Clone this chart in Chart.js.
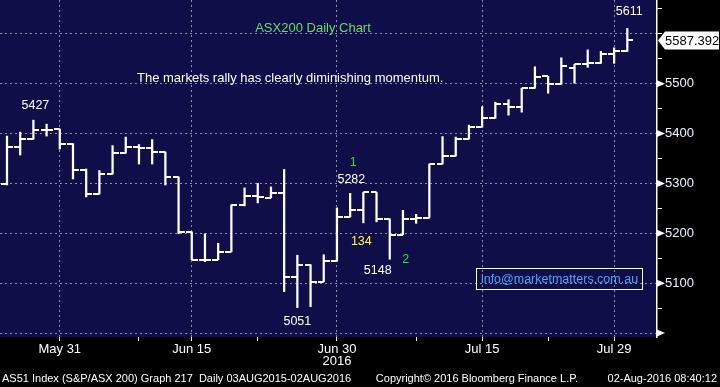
<!DOCTYPE html>
<html>
<head>
<meta charset="utf-8">
<script src="https://cdn.jsdelivr.net/npm/chart.js@4.4.1/dist/chart.umd.min.js"></script>
<style>
  html, body { margin: 0; padding: 0; background: #000; }
  #wrap { width: 720px; height: 387px; }
</style>
</head>
<body>
<div id="wrap"><canvas id="chart_ohlc"></canvas></div>
<script>
// ASX200 daily bars, 25 May - 1 Aug 2016
const dates = [
  'May 25', 'May 26', 'May 27', 'May 30', 'May 31',
  'Jun 1', 'Jun 2', 'Jun 3', 'Jun 6', 'Jun 7', 'Jun 8', 'Jun 9', 'Jun 10',
  'Jun 14', 'Jun 15', 'Jun 16', 'Jun 17', 'Jun 20', 'Jun 21', 'Jun 22', 'Jun 23', 'Jun 24',
  'Jun 27', 'Jun 28', 'Jun 29', 'Jun 30',
  'Jul 1', 'Jul 4', 'Jul 5', 'Jul 6', 'Jul 7', 'Jul 8', 'Jul 11', 'Jul 12', 'Jul 13', 'Jul 14', 'Jul 15',
  'Jul 18', 'Jul 19', 'Jul 20', 'Jul 21', 'Jul 22', 'Jul 25', 'Jul 26', 'Jul 27', 'Jul 28', 'Jul 29',
  'Aug 1'
];
const opens = [
  5298, 5373, 5389, 5407, 5409, 5380, 5326, 5279, 5319, 5362, 5373, 5371, 5363,
  5313, 5203, 5147, 5147, 5163, 5257, 5275, 5271, 5281, 5113, 5137, 5103, 5144,
  5233, 5247, 5282, 5229, 5197, 5229, 5231, 5339, 5355, 5389, 5413,
  5431, 5459, 5453, 5491, 5515, 5499, 5531, 5539, 5541, 5559, 5565
];
const highs = [
  5395, 5403, 5427, 5419, 5409, 5380, 5329, 5326, 5376, 5393, 5378, 5388, 5363,
  5313, 5203, 5199, 5180, 5257, 5291, 5300, 5293, 5328, 5156, 5137, 5157, 5251,
  5280, 5282, 5282, 5229, 5246, 5238, 5339, 5394, 5393, 5417, 5454,
  5463, 5468, 5491, 5534, 5515, 5552, 5539, 5568, 5565, 5572, 5611
];
const lows = [
  5297, 5357, 5389, 5395, 5369, 5309, 5273, 5279, 5319, 5361, 5339, 5339, 5297,
  5199, 5147, 5143, 5147, 5163, 5255, 5261, 5271, 5083, 5051, 5053, 5103, 5144,
  5233, 5221, 5223, 5148, 5197, 5220, 5231, 5339, 5355, 5389, 5413,
  5431, 5437, 5443, 5491, 5481, 5499, 5501, 5533, 5541, 5541, 5565
];
const closes = [
  5373, 5389, 5407, 5408, 5380, 5326, 5279, 5319, 5362, 5373, 5371, 5363, 5313,
  5203, 5147, 5147, 5163, 5257, 5275, 5272, 5281, 5113, 5137, 5103, 5144, 5233,
  5247, 5282, 5229, 5197, 5229, 5231, 5339, 5355, 5389, 5413, 5431,
  5459, 5453, 5491, 5513, 5499, 5535, 5539, 5541, 5559, 5565, 5587.392
];
const labelledDates = [4, 14, 25, 36, 46];
const minorDates = [10, 19, 31, 41];
const priceTicks = [5000, 5050, 5100, 5150, 5200, 5250, 5300, 5350, 5400, 5450, 5500, 5550, 5600, 5650];
const priceLabels = [5100, 5200, 5300, 5400, 5500];

const NAVY = '#100e48';
const GRID = '#8e8ea6';
const FONT = "'Liberation Sans', Arial, sans-serif";

// little open / close ticks used as point styles
function tickImage(side) {
  const c = document.createElement('canvas');
  c.width = 12;
  c.height = 2;
  const g = c.getContext('2d');
  g.fillStyle = '#ffffff';
  if (side === 'left') g.fillRect(0, 0, 6, 2);
  else g.fillRect(6, 0, 6, 2);
  return c;
}

const bloombergLook = {
  id: 'bloombergLook',
  beforeDraw(chart) {
    const { ctx, chartArea: a } = chart;
    ctx.save();
    ctx.fillStyle = '#000';
    ctx.fillRect(0, 0, chart.width, chart.height);
    ctx.fillStyle = NAVY;
    ctx.fillRect(a.left, a.top, a.right - a.left, a.bottom - a.top);
    ctx.restore();
  },
  afterDraw(chart) {
    const { ctx, chartArea: a } = chart;
    const x = chart.scales.x;
    const y = chart.scales.y;
    ctx.save();

    // triangles on the major price ticks
    ctx.fillStyle = '#fff';
    [5000].concat(priceLabels).forEach(v => {
      const py = y.getPixelForValue(v);
      ctx.beginPath();
      ctx.moveTo(a.right, py - 3.5);
      ctx.lineTo(a.right + 8, py);
      ctx.lineTo(a.right, py + 3.5);
      ctx.closePath();
      ctx.fill();
    });

    // last price box
    const last = closes[closes.length - 1];
    const ly = Math.round(y.getPixelForValue(last)) + 0.5;
    ctx.beginPath();
    ctx.moveTo(a.right + 1, ly);
    ctx.lineTo(a.right + 8, ly - 9);
    ctx.lineTo(719, ly - 9);
    ctx.lineTo(719, ly + 9);
    ctx.lineTo(a.right + 8, ly + 9);
    ctx.closePath();
    ctx.fill();
    ctx.fillStyle = '#000';
    ctx.font = '13px ' + FONT;
    ctx.textBaseline = 'middle';
    ctx.textAlign = 'left';
    ctx.fillText(last.toFixed(3), a.right + 8, ly + 1);

    // annotations
    ctx.textAlign = 'center';
    ctx.font = '13px ' + FONT;
    ctx.fillStyle = '#66dd66';
    ctx.fillText('ASX200 Daily Chart', 313, 28);
    ctx.fillStyle = '#ffffff';
    ctx.textAlign = 'left';
    ctx.fillText('The markets rally has clearly diminishing momentum.', 137, 78);

    ctx.textAlign = 'center';
    ctx.font = '12.5px ' + FONT;
    const note = (txt, idx, val, dx, dy, col) => {
      ctx.fillStyle = col;
      ctx.fillText(txt, x.getPixelForValue(idx) + dx, y.getPixelForValue(val) + dy);
    };
    note('5427', 2, highs[2], 2, -15, '#ffffff');
    note('5611', 47, highs[47], 2, -17, '#ffffff');
    note('5282', 27, closes[27], -12, -13, '#ffffff');
    note('1', 27, closes[27], -10, -30, '#33dd33');
    note('134', 27, closes[27], -2, 49, '#ffff33');
    note('5148', 29, lows[29], -12, 11, '#ffffff');
    note('2', 29, lows[29], 16, 0, '#33dd33');
    note('5051', 22, lows[22], 0, 14, '#ffffff');

    // email box
    ctx.strokeStyle = '#ffffff';
    ctx.lineWidth = 1;
    ctx.strokeRect(476.5, 268.5, 166, 21);
    ctx.fillStyle = '#4da3ff';
    ctx.font = '12.5px ' + FONT;
    ctx.fillText('info@marketmatters.com.au', 559.5, 279.5);

    // year and footer
    ctx.fillStyle = '#ffffff';
    ctx.font = '13px ' + FONT;
    ctx.fillText('2016', x.getPixelForValue(25), 361);
    ctx.font = '11px ' + FONT;
    ctx.textAlign = 'left';
    ctx.fillText('AS51 Index (S&P/ASX 200) Graph 217  Daily 03AUG2015-02AUG2016', 2, 379);
    ctx.textAlign = 'center';
    ctx.fillText('Copyright\u00a9 2016 Bloomberg Finance L.P.', 477, 379);
    ctx.textAlign = 'right';
    ctx.fillText('02-Aug-2016 08:40:12', 717, 379);
    ctx.restore();
  }
};

new Chart(document.getElementById('chart_ohlc'), {
  type: 'bar',
  data: {
    datasets: [
      {
        label: 'High-Low',
        data: dates.map((d, i) => ({ x: i, y: [lows[i], highs[i]] })),
        backgroundColor: '#ffffff',
        borderWidth: 0,
        barThickness: 1.6,
        grouped: false
      },
      {
        type: 'line',
        label: 'Open',
        data: dates.map((d, i) => ({ x: i, y: opens[i] })),
        showLine: false,
        pointStyle: tickImage('left'),
        pointRadius: 3
      },
      {
        type: 'line',
        label: 'Close',
        data: dates.map((d, i) => ({ x: i, y: closes[i] })),
        showLine: false,
        pointStyle: tickImage('right'),
        pointRadius: 3
      }
    ]
  },
  options: {
    responsive: true,
    maintainAspectRatio: false,
    animation: false,
    layout: { padding: 0, autoPadding: false },
    plugins: { legend: { display: false }, tooltip: { enabled: false } },
    scales: {
      x: {
        type: 'linear',
        offset: false,
        min: -0.53,
        max: 49.25,
        afterBuildTicks: s => {
          s.ticks = labelledDates.concat(minorDates).sort((p, q) => p - q).map(v => ({ value: v }));
        },
        afterFit: s => {
          s.height = 50;
          s.paddingLeft = 0;
          s.paddingRight = 0;
        },
        ticks: {
          autoSkip: false,
          maxRotation: 0,
          padding: 1,
          color: '#ffffff',
          font: { family: FONT, size: 13 },
          callback: v => (labelledDates.includes(v) ? dates[v] : '')
        },
        grid: {
          offset: false,
          color: c => (c.tick && labelledDates.includes(c.tick.value) ? GRID : 'rgba(0,0,0,0)'),
          lineWidth: 1,
          tickColor: '#ffffff',
          tickLength: 4
        },
        border: { display: false, dash: [2, 3] }
      },
      y: {
        position: 'right',
        min: 4992,
        max: 5668,
        afterBuildTicks: s => {
          s.ticks = priceTicks.map(v => ({ value: v }));
        },
        afterFit: s => {
          s.width = 63;
          s.paddingTop = 0;
          s.paddingBottom = 0;
        },
        ticks: {
          padding: 3,
          color: '#eef4ff',
          font: { family: FONT, size: 13 },
          callback: v => (priceLabels.includes(v) ? String(v) : '')
        },
        grid: {
          color: c => (c.tick && c.tick.value % 100 === 0 ? GRID : 'rgba(0,0,0,0)'),
          lineWidth: 1,
          tickColor: '#ffffff',
          tickLength: 5
        },
        border: { display: true, color: '#ffffff', width: 1.5, dash: [2, 3] }
      }
    }
  },
  plugins: [bloombergLook]
});
</script>
</body>
</html>
